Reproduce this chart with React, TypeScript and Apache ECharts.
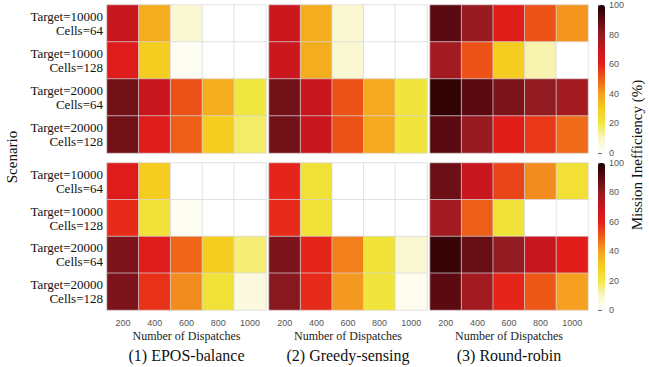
import React, { useEffect, useRef } from "react";
import * as echarts from "echarts";

const dispatches = ["200", "400", "600", "800", "1000"];
const scenarios = [
  "Target=10000\nCells=64",
  "Target=10000\nCells=128",
  "Target=20000\nCells=64",
  "Target=20000\nCells=128",
];
const methods = ["(1) EPOS-balance", "(2) Greedy-sensing", "(3) Round-robin"];

// top row
const topEpos = [
  [70, 37, 8, 0, 0],
  [62, 30, 2, 0, 0],
  [86, 70, 52, 37, 20],
  [86, 62, 50, 30, 17],
];
const topGreedy = [
  [69, 37, 8, 0, 0],
  [69, 37, 8, 0, 0],
  [86, 70, 52, 38, 21],
  [86, 70, 52, 38, 21],
];
const topRound = [
  [90, 79, 61, 52, 42],
  [77, 52, 30, 12, 0],
  [97, 90, 84, 80, 77],
  [90, 79, 61, 56, 48],
];
// bottom row
const botEpos = [
  [62, 30, 0, 0, 0],
  [58, 22, 2, 0, 0],
  [84, 62, 49, 30, 16],
  [84, 57, 43, 22, 6],
];
const botGreedy = [
  [59, 22, 0, 0, 0],
  [58, 22, 0, 0, 0],
  [84, 59, 45, 22, 8],
  [82, 58, 41, 21, 3],
];
const botRound = [
  [87, 70, 54, 43, 23],
  [77, 50, 22, 0, 0],
  [96, 88, 80, 70, 61],
  [90, 77, 59, 51, 40],
];

const colorStops = [
  "#ffffff",
  "#f9f5c8",
  "#f0e840",
  "#f5cc20",
  "#f5a020",
  "#ee5e18",
  "#e41e1a",
  "#c8161e",
  "#931b22",
  "#5c0a12",
  "#1e0000",
];

const SERIF = "'Liberation Serif', 'Times New Roman', serif";
const SANS = "'Liberation Sans', Arial, sans-serif";

export default function App() {
  const ref = useRef<HTMLDivElement>(null);
  useEffect(() => {
    document.body.style.margin = "0";
    if (!ref.current) return;
    const chart = echarts.init(ref.current, null, { renderer: "svg" });

    const panels = [topEpos, topGreedy, topRound, botEpos, botGreedy, botRound];
    const lefts = [107, 269, 430];
    const widths = [159, 158, 158];
    const tops = [5, 163];
    const heights = [148, 147];

    const grids: any[] = [];
    const xAxes: any[] = [];
    const yAxes: any[] = [];
    const series: any[] = [];
    panels.forEach((p, i) => {
      const r = Math.floor(i / 3);
      const c = i % 3;
      grids.push({ left: lefts[c], top: tops[r], width: widths[c], height: heights[r] });
      xAxes.push({
        type: "category",
        gridIndex: i,
        data: dispatches,
        axisLine: { show: false },
        axisTick: { show: false },
        splitLine: { show: false },
        axisLabel: {
          show: r === 1,
          fontFamily: SANS,
          fontSize: 9,
          color: "#555",
          margin: 8,
        },
        name: r === 1 ? "Number of Dispatches" : "",
        nameLocation: "middle",
        nameGap: 20,
        nameTextStyle: { fontFamily: SERIF, fontSize: 12, color: "#222" },
      });
      yAxes.push({
        type: "category",
        gridIndex: i,
        data: scenarios,
        inverse: true,
        axisLine: { show: false },
        axisTick: { show: false },
        splitLine: { show: false },
        axisLabel: {
          show: c === 0,
          fontFamily: SERIF,
          fontSize: 13,
          lineHeight: 14,
          color: "#111",
          margin: 4,
          align: "right",
        },
      });
      const data: number[][] = [];
      p.forEach((row, yi) => row.forEach((v, xi) => data.push([xi, yi, v])));
      series.push({
        type: "heatmap",
        xAxisIndex: i,
        yAxisIndex: i,
        data,
        itemStyle: { borderColor: "rgba(215,215,215,0.7)", borderWidth: 1 },
        emphasis: { disabled: true },
      });
    });

    // colorbar axes
    [0, 1].forEach((r) => {
      const gi = grids.length;
      grids.push({ left: 598, top: tops[r], width: 7, height: heights[r] });
      xAxes.push({ type: "value", gridIndex: gi, show: false, min: 0, max: 1 });
      yAxes.push({
        type: "value",
        gridIndex: gi,
        min: 0,
        max: 100,
        interval: 20,
        position: "right",
        axisLine: { show: false },
        axisTick: { show: true, length: 4, lineStyle: { color: "#666", width: 1 } },
        splitLine: { show: false },
        axisLabel: { fontFamily: SANS, fontSize: 9, color: "#555", margin: 4 },
      });
      series.push({ type: "scatter", xAxisIndex: gi, yAxisIndex: gi, data: [], silent: true });
    });

    const centers = [lefts[0] + widths[0] / 2, lefts[1] + widths[1] / 2, lefts[2] + widths[2] / 2];

    chart.setOption({
      animation: false,
      grid: grids,
      xAxis: xAxes,
      yAxis: yAxes,
      series,
      visualMap: [0, 1].map((r) => ({
        type: "continuous",
        min: 0,
        max: 100,
        seriesIndex: [r * 3, r * 3 + 1, r * 3 + 2],
        inRange: { color: colorStops },
        calculable: false,
        hoverLink: false,
        orient: "vertical",
        left: 598,
        top: tops[r],
        itemWidth: 7,
        itemHeight: heights[r],
        padding: 0,
        text: null,
        showLabel: false,
      })),
      graphic: [
        ...methods.map((m, i) => ({
          type: "text",
          x: centers[i],
          y: 355,
          style: {
            text: m,
            fontFamily: SERIF,
            fontSize: 16,
            fill: "#111",
            textAlign: "center",
            textVerticalAlign: "middle",
          },
        })),
        {
          type: "text",
          x: 12,
          y: 157,
          rotation: Math.PI / 2,
          style: {
            text: "Scenario",
            fontFamily: SERIF,
            fontSize: 15,
            fill: "#111",
            textAlign: "center",
            textVerticalAlign: "middle",
          },
        },
        {
          type: "text",
          x: 637,
          y: 155,
          rotation: Math.PI / 2,
          style: {
            text: "Mission Inefficiency (%)",
            fontFamily: SERIF,
            fontSize: 15,
            fill: "#111",
            textAlign: "center",
            textVerticalAlign: "middle",
          },
        },
      ],
    });
    return () => chart.dispose();
  }, []);
  return <div ref={ref} style={{ width: 649, height: 367 }} />;
}
